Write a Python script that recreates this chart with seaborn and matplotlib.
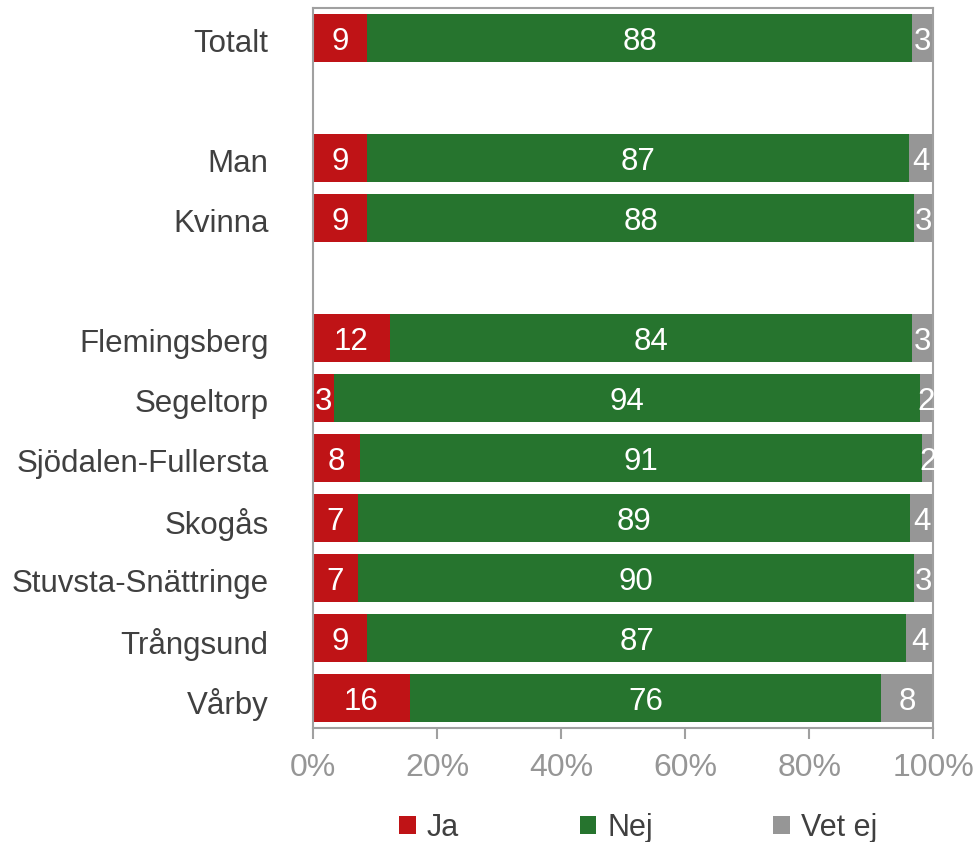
import pandas as pd
import matplotlib.pyplot as plt
import seaborn as sns
from matplotlib.transforms import ScaledTranslation

# Dataset: andel svar per grupp (procent)
grupper = ['Totalt', 'Man', 'Kvinna', 'Flemingsberg', 'Segeltorp',
           'Sjödalen-Fullersta', 'Skogås', 'Stuvsta-Snättringe',
           'Trångsund', 'Vårby']
ja = [8.7, 8.7, 8.7, 12.4, 3.4, 7.6, 7.2, 7.2, 8.7, 15.6]
nej = [87.9, 87.3, 88.2, 84.2, 94.4, 90.6, 89.1, 89.7, 86.9, 76.0]
vet_ej = [3.4, 4.0, 3.1, 3.4, 2.2, 1.8, 3.7, 3.1, 4.4, 8.4]
svar = ['Ja', 'Nej', 'Vet ej']

# tomma rader mellan blocken
ordning = ['Totalt', ' ', 'Man', 'Kvinna', '  ', 'Flemingsberg', 'Segeltorp',
           'Sjödalen-Fullersta', 'Skogås', 'Stuvsta-Snättringe',
           'Trångsund', 'Vårby']

farger = {'Ja': '#BF1316', 'Nej': '#26742E', 'Vet ej': '#969696'}

df = pd.DataFrame({'Grupp': grupper, 'Ja': ja, 'Nej': nej, 'Vet ej': vet_ej})
df['Ja_kum'] = df['Ja']
df['Nej_kum'] = df['Ja'] + df['Nej']
df['Vet_kum'] = df['Ja'] + df['Nej'] + df['Vet ej']

sns.set_theme(style="white")
plt.rcParams['font.family'] = ['Liberation Sans', 'DejaVu Sans']

fig = plt.figure(figsize=(9.77, 8.42), dpi=100)
ax = fig.add_axes([0.3204, 0.1354, 0.635, 0.8551])

# staplade staplar: rita kumulativa summor bakifrån
for kol, namn in [('Vet_kum', 'Vet ej'), ('Nej_kum', 'Nej'), ('Ja_kum', 'Ja')]:
    sns.barplot(data=df, x=kol, y='Grupp', order=ordning, orient='h',
                color=farger[namn], errorbar=None, width=0.8,
                saturation=1, linewidth=0, ax=ax, label=namn)

# värden i staplarna
pos = {g: i for i, g in enumerate(ordning)}
for _, rad in df.iterrows():
    y = pos[rad['Grupp']]
    start = 0
    for s in svar:
        v = rad[s]
        ax.text(start + v / 2, y + 0.06, f"{v:.0f}", ha='center', va='center',
                color='white', fontsize=22.5)
        start += v

ax.set_xlim(0, 100)
ax.set_ylim(len(ordning) - 0.5, -0.5)
ax.set_xticks(range(0, 101, 20))
ax.set_xticklabels([f"{t}%" for t in range(0, 101, 20)], fontsize=23, color='#969696')
ax.tick_params(axis='x', direction='out', length=8, width=1.5, color='#A0A0A0', pad=10, bottom=True)
ax.tick_params(axis='y', length=0, labelsize=22.5, labelcolor='#404040', pad=32)
ax.set_xlabel('')
ax.set_ylabel('')
for sp in ax.spines.values():
    sp.set_color('#A0A0A0')
    sp.set_linewidth(1.5)

skift = ScaledTranslation(0, -3 / 100, fig.dpi_scale_trans)
for lab in ax.get_yticklabels():
    lab.set_transform(lab.get_transform() + skift)

# legend längst ner
handles, labels = ax.get_legend_handles_labels()
ordn = [labels.index(s) for s in svar]
ax.legend([handles[i] for i in ordn], svar, loc='center', bbox_to_anchor=(0.524, -0.139),
          ncol=3, frameon=False, fontsize=22, handlelength=0.55, handleheight=0.55,
          handletextpad=0.35, columnspacing=3.95, labelcolor='#404040')

plt.savefig('out.png', dpi=100)
